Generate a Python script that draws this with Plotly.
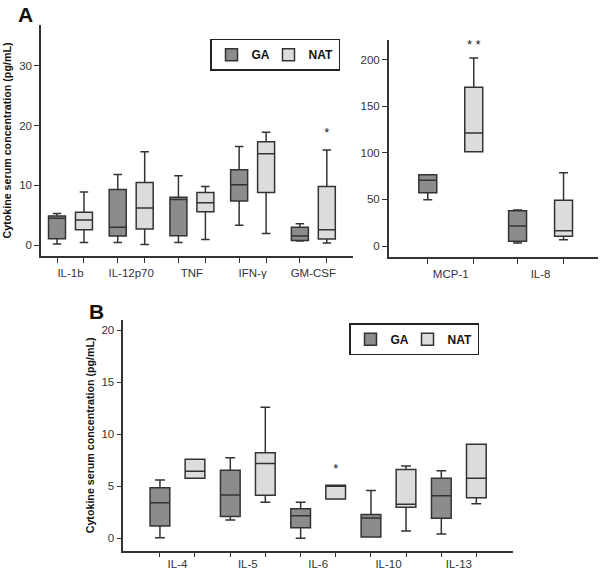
import plotly.graph_objects as go

# ---------------- data ----------------
cats_a1 = ["IL-1b", "IL-12p70", "TNF", "IFN-γ", "GM-CSF"]
ga_a1_low = [0.2, 0.45, 0.45, 3.35, 0.7]
ga_a1_q1 = [1.1, 1.56, 1.6, 7.4, 0.8]
ga_a1_med = [4.5, 3.0, 7.65, 10.1, 1.56]
ga_a1_q3 = [4.9, 9.3, 8.0, 12.6, 3.0]
ga_a1_high = [5.3, 11.8, 11.6, 16.5, 3.6]
nat_a1_low = [0.45, 0.1, 0.95, 1.95, 0.35]
nat_a1_q1 = [2.6, 2.7, 5.6, 8.8, 1.05]
nat_a1_med = [4.2, 6.2, 7.1, 15.3, 2.6]
nat_a1_q3 = [5.5, 10.5, 8.8, 17.3, 9.8]
nat_a1_high = [8.9, 15.6, 9.8, 18.9, 15.9]
sig_a1 = ["", "", "", "", "*"]
sig_a1_y = [0, 0, 0, 0, 18.6]

cats_a2 = ["MCP-1", "IL-8"]
ga_a2_low = [49.7, 3.2]
ga_a2_q1 = [57.2, 5.0]
ga_a2_med = [70.5, 21.5]
ga_a2_q3 = [76.5, 37.9]
ga_a2_high = [76.5, 38.6]
nat_a2_low = [101.2, 6.8]
nat_a2_q1 = [101.2, 10.4]
nat_a2_med = [121.2, 16.4]
nat_a2_q3 = [170.3, 49.0]
nat_a2_high = [201.7, 78.6]
sig_a2 = ["* *", ""]
sig_a2_y = [214.6, 0]

cats_b = ["IL-4", "IL-5", "IL-6", "IL-10", "IL-13"]
ga_b_low = [0.06, 1.76, 0.0, 0.12, 0.41]
ga_b_q1 = [1.18, 2.1, 1.02, 0.12, 1.92]
ga_b_med = [3.43, 4.16, 2.18, 1.95, 4.1]
ga_b_q3 = [4.87, 6.54, 2.85, 2.3, 5.77]
ga_b_high = [5.6, 7.75, 3.46, 4.6, 6.5]
nat_b_low = [5.77, 3.46, 3.78, 0.7, 3.33]
nat_b_q1 = [5.77, 4.13, 3.78, 2.98, 3.9]
nat_b_med = [6.44, 7.2, 5.03, 3.27, 5.77]
nat_b_q3 = [7.6, 8.23, 5.1, 6.63, 9.04]
nat_b_high = [7.6, 12.6, 5.1, 6.95, 9.04]
sig_b = ["", "", "*", "", ""]
sig_b_y = [0, 0, 6.63, 0, 0]

groups = ["GA", "NAT"]
ytitle = "Cytokine serum concentration (pg/mL)"

# ---------------- style ----------------
FONT = "Liberation Sans, Arial, sans-serif"
LINE = "#333333"
FILL = {"GA": "#8c8c8c", "NAT": "#dcdcdc"}
LEGW = {"GA": 12, "NAT": 0}

fig = go.Figure()


def add_panel(cats, ga, nat, sig, sig_y, xa, ya, offset, width, legend):
    n = len(cats)
    for g, stats in zip(groups, (ga, nat)):
        sgn = -1 if g == "GA" else 1
        xs = [i + sgn * offset for i in range(n)]
        low, q1, med, q3, high = stats
        fig.add_trace(go.Box(
            x=xs, q1=q1, median=med, q3=q3, lowerfence=low, upperfence=high,
            name=g, width=width, whiskerwidth=0.5, boxpoints=False,
            fillcolor=FILL[g], line=dict(color=LINE, width=1.5),
            xaxis=xa, yaxis=ya, hoverinfo="skip",
            legend=legend if legend else "legend",
            legendwidth=LEGW[g],
            showlegend=bool(legend),
        ))
    sx = [i + offset for i, s in enumerate(sig) if s]
    sy = [y for s, y in zip(sig, sig_y) if s]
    st = [s for s in sig if s]
    fig.add_trace(go.Scatter(
        x=sx, y=sy, text=st, mode="text",
        textfont=dict(size=13, color="#222222", family=FONT),
        xaxis=xa, yaxis=ya, showlegend=False, hoverinfo="skip"))


add_panel(cats_a1, (ga_a1_low, ga_a1_q1, ga_a1_med, ga_a1_q3, ga_a1_high),
          (nat_a1_low, nat_a1_q1, nat_a1_med, nat_a1_q3, nat_a1_high),
          sig_a1, sig_a1_y, "x", "y", 0.222, 0.28, "legend")
add_panel(cats_a2, (ga_a2_low, ga_a2_q1, ga_a2_med, ga_a2_q3, ga_a2_high),
          (nat_a2_low, nat_a2_q1, nat_a2_med, nat_a2_q3, nat_a2_high),
          sig_a2, sig_a2_y, "x2", "y2", 0.256, 0.2, None)
add_panel(cats_b, (ga_b_low, ga_b_q1, ga_b_med, ga_b_q3, ga_b_high),
          (nat_b_low, nat_b_q1, nat_b_med, nat_b_q3, nat_b_high),
          sig_b, sig_b_y, "x3", "y3", 0.249, 0.28, "legend2")


def xaxis(cats, offset, domain, rng, anchor, lablen=5):
    n = len(cats)
    minor_vals = [i + s * offset for i in range(n) for s in (-1, 1)]
    return dict(
        domain=domain, range=rng, anchor=anchor, automargin=False,
        tickmode="array", tickvals=list(range(n)), ticktext=cats,
        ticks="outside", ticklen=lablen, tickcolor="rgba(0,0,0,0)",
        minor=dict(tickmode="array", tickvals=minor_vals, ticks="outside",
                   ticklen=5, tickwidth=1.2, tickcolor=LINE),
        showline=True, linecolor=LINE, linewidth=1.5,
        showgrid=False, zeroline=False,
        tickfont=dict(size=11.5, color=LINE, family=FONT),
    )


def yaxis(domain, rng, tickvals, anchor, title):
    d = dict(
        domain=domain, range=rng, anchor=anchor, automargin=False,
        tickmode="array", tickvals=tickvals,
        ticks="outside", ticklen=5, tickwidth=1.2, tickcolor=LINE,
        showline=True, linecolor=LINE, linewidth=1.5,
        showgrid=False, zeroline=False,
        tickfont=dict(size=11.5, color=LINE, family=FONT),
    )
    if title:
        d["title"] = dict(text=title, font=dict(size=10.7, color="#111111", family=FONT, weight="bold"),
                          standoff=5)
    return d


legend_style = dict(
    orientation="h", bordercolor="#222222", borderwidth=1.5, bgcolor="white",
    font=dict(size=12, color="#111111", family=FONT, weight="bold"),
    xanchor="center", yanchor="top",
)

fig.update_layout(
    width=600, height=570,
    margin=dict(l=0, r=0, t=0, b=0, autoexpand=False),
    paper_bgcolor="white", plot_bgcolor="white",
    xaxis=xaxis(cats_a1, 0.222, [0.0683, 0.588], [-0.486, 4.65], "y"),
    yaxis=yaxis([0.5509, 0.9561], [-1.8, 36.8], [0, 10, 20, 30], "x", ytitle),
    xaxis2=xaxis(cats_a2, 0.256, [0.648, 0.9967], [-0.69, 1.64], "y2"),
    yaxis2=yaxis([0.5491, 0.9298], [-11.8, 221], [0, 50, 100, 150, 200], "x2", None),
    xaxis3=xaxis(cats_b, 0.249, [0.2055, 0.855], [-0.77, 4.77], "y3", lablen=2),
    yaxis3=yaxis([0.0339, 0.4386], [-1.19, 21.0], [0, 5, 10, 15, 20], "x3", ytitle),
    legend=dict(legend_style, x=275 / 600, y=1 - 38.7 / 570),
    legend2=dict(legend_style, x=414 / 600, y=1 - 323.3 / 570),
    annotations=[
        dict(text="<b>A</b>", x=25 / 600, y=1 - 15 / 570, xref="paper", yref="paper",
             xanchor="center", yanchor="middle",
             showarrow=False, font=dict(size=21, color="#111111", family=FONT)),
        dict(text="<b>B</b>", x=97 / 600, y=1 - 311 / 570, xref="paper", yref="paper",
             xanchor="center", yanchor="middle",
             showarrow=False, font=dict(size=21, color="#111111", family=FONT)),
    ],
)

fig.write_html(
    "out.html",
    config={"displayModeBar": False},
    post_script="document.body.style.margin='0';document.body.style.overflow='hidden';",
)
